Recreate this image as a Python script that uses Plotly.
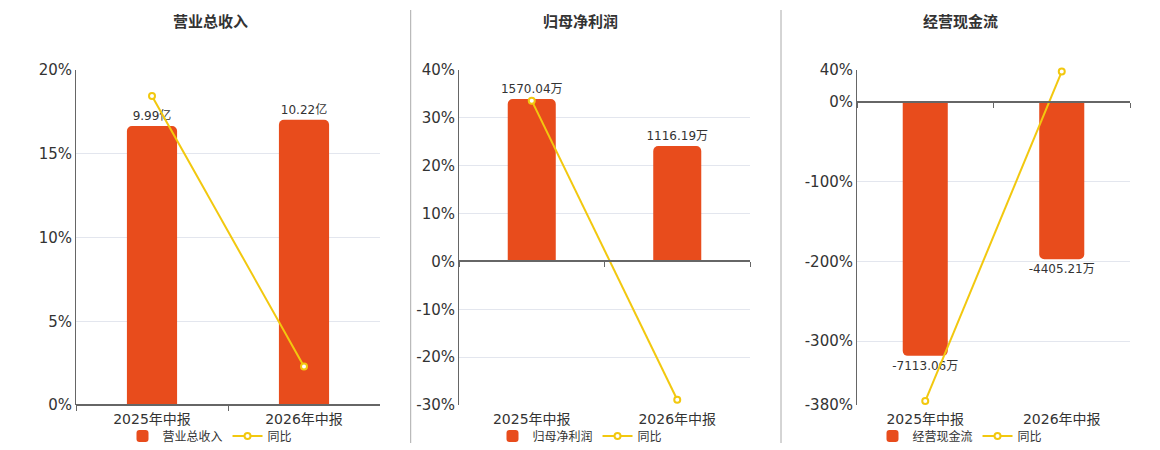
import plotly.graph_objects as go

categories = ["2025年中报", "2026年中报"]

titles = ["营业总收入", "归母净利润", "经营现金流"]
bar_names = ["营业总收入", "归母净利润", "经营现金流"]

revenue = [9.99, 10.22]          # 亿
revenue_labels = ["9.99亿", "10.22亿"]
revenue_yoy = [18.45, 2.30]      # %

profit = [1570.04, 1116.19]      # 万
profit_labels = ["1570.04万", "1116.19万"]
profit_yoy = [33.6, -28.91]

cashflow = [-7113.06, -4405.21]  # 万
cashflow_labels = ["-7113.06万", "-4405.21万"]
cashflow_yoy = [-375.0, 38.07]

pct_ticks = [
    [0, 5, 10, 15, 20],
    [-30, -20, -10, 0, 10, 20, 30, 40],
    [-380, -300, -200, -100, 0, 40],
]
pct_ranges = [[0, 20], [-30, 40], [-380, 40]]
bar_ranges = [[0, 12.0], [-1387.5, 1850], [-8489, 893.6]]

BAR = "#E84C1C"
LINE = "#F2C80F"
FONT = "DejaVu Sans, Noto Sans CJK SC, sans-serif"
W, H = 1160, 450

# panel geometry in pixels (left, right), shared top/bottom
panels_px = [(76, 380), (459, 750), (857, 1130)]
top_px, bot_px = 70, 405
centers = [210, 580, 960]

fig = go.Figure()

series = [
    (revenue, revenue_labels, revenue_yoy),
    (profit, profit_labels, profit_yoy),
    (cashflow, cashflow_labels, cashflow_yoy),
]

y0 = 1 - bot_px / H
y1 = 1 - top_px / H

for i, (vals, labels, yoy) in enumerate(series):
    n = i + 1
    xa = "x" if n == 1 else f"x{n}"
    yb = "y" if n == 1 else f"y{n}"
    yp = f"y{n + 3}"
    legend_id = "legend" if n == 1 else f"legend{n}"
    fig.add_trace(go.Bar(
        x=categories, y=vals, name=bar_names[i], text=labels,
        textposition="outside", cliponaxis=False, constraintext="none",
        textfont=dict(size=12, color="#333333", family=FONT),
        marker=dict(color=BAR, cornerradius=5, line=dict(width=0)),
        xaxis=xa, yaxis=yb, legend=legend_id, hoverinfo="skip",
    ))
    fig.add_trace(go.Scatter(
        x=categories, y=yoy, name="同比", mode="lines+markers",
        line=dict(color=LINE, width=2),
        marker=dict(size=6, color="white", line=dict(color=LINE, width=2)),
        xaxis=xa, yaxis=yp, legend=legend_id, cliponaxis=False, hoverinfo="skip",
    ))

    l, r = panels_px[i]
    dom_x = [l / W, r / W]
    lo, hi = pct_ranges[i]
    zero_frac = (0 - lo) / (hi - lo)
    zero_pos = y0 + (y1 - y0) * zero_frac
    zero_px = bot_px - (bot_px - top_px) * zero_frac
    standoff = int(round((bot_px - zero_px) + 1))

    fig.layout[f"xaxis{n}" if n > 1 else "xaxis"] = dict(
        domain=dom_x, anchor="free", position=zero_pos, type="category",
        showline=True, linecolor="#666666", linewidth=2,
        ticks="outside", tickson="boundaries", ticklen=5, tickcolor="#666666",
        showgrid=False, zeroline=False,
        tickfont=dict(size=14, color="#333333", family=FONT),
        ticklabelstandoff=standoff, range=[-0.5, 1.5], fixedrange=True,
    )
    fig.layout[f"yaxis{n}" if n > 1 else "yaxis"] = dict(
        domain=[y0, y1], anchor=xa, range=bar_ranges[i], visible=False,
        showgrid=False, zeroline=False, fixedrange=True,
    )
    fig.layout[f"yaxis{n + 3}"] = dict(
        domain=[y0, y1], anchor=xa, overlaying=yb, side="left",
        range=[lo, hi], tickvals=pct_ticks[i],
        ticktext=[f"{v}%" for v in pct_ticks[i]],
        showline=True, linecolor="#666666", linewidth=1,
        ticks="", ticklabelstandoff=0,
        showgrid=True, gridcolor="#E3E6EE", gridwidth=1, zeroline=False,
        tickfont=dict(size=15, color="#333333", family=FONT), fixedrange=True,
    )
    fig.layout[legend_id] = dict(
        orientation="h", x=centers[i] / W, xanchor="center",
        y=1 - 436 / H, yanchor="middle",
        font=dict(size=12, color="#333333", family=FONT),
        bgcolor="rgba(0,0,0,0)", itemwidth=30, tracegroupgap=0,
    )
    fig.add_annotation(
        text=f"<b>{titles[i]}</b>", x=centers[i] / W, y=1 - 22 / H,
        xref="paper", yref="paper", showarrow=False,
        xanchor="center", yanchor="middle",
        font=dict(size=15, color="#333333", family=FONT),
    )

# panel separators
for xs in [410.7, 781]:
    fig.add_shape(type="line", xref="paper", yref="paper",
                  x0=xs / W, x1=xs / W, y0=1 - 443 / H, y1=1 - 10 / H,
                  line=dict(color="#AAAAAA", width=1))

fig.update_layout(
    width=W, height=H, margin=dict(l=0, r=0, t=0, b=0, autoexpand=False),
    paper_bgcolor="white", plot_bgcolor="white",
    bargap=0.67, showlegend=True, font=dict(family=FONT),
)

fig.write_html("out.html", config={"displayModeBar": False},
               post_script="document.body.style.margin='0px';")
